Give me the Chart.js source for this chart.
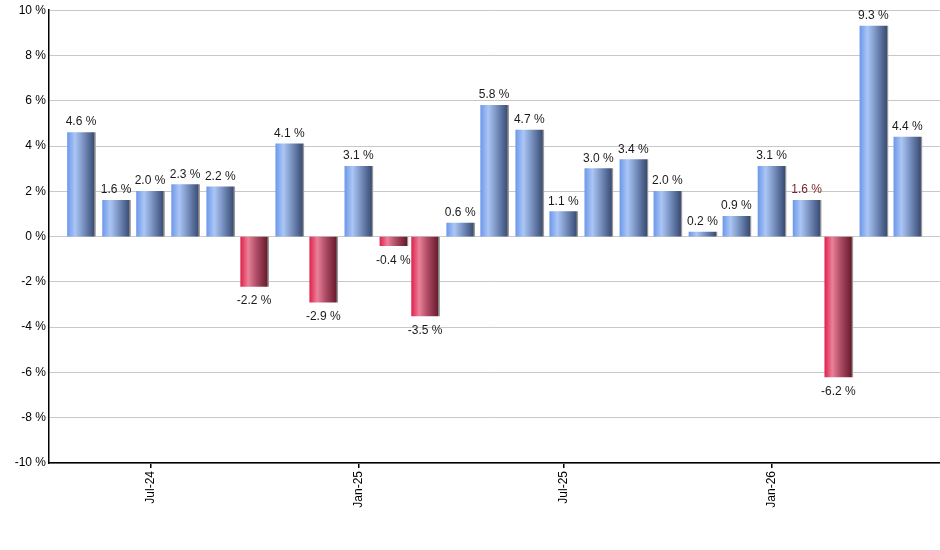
<!DOCTYPE html>
<html>
<head>
<meta charset="utf-8">
<script src="https://cdn.jsdelivr.net/npm/chart.js@4/dist/chart.umd.min.js"></script>
<style>
  html, body { margin: 0; padding: 0; background: #fff; }
  canvas { display: block; }
</style>
</head>
<body>
<canvas id="chart" width="940" height="550"></canvas>
<script>
// monthly returns, May-24 .. May-26
const months = [
    "May-24", "Jun-24", "Jul-24", "Aug-24", "Sep-24", "Oct-24", "Nov-24", "Dec-24",
    "Jan-25", "Feb-25", "Mar-25", "Apr-25", "May-25", "Jun-25", "Jul-25", "Aug-25",
    "Sep-25", "Oct-25", "Nov-25", "Dec-25", "Jan-26", "Feb-26", "Mar-26", "Apr-26", "May-26"
];
const returns = [
    4.6, 1.6, 2.0, 2.3, 2.2, -2.2, 4.1, -2.9,
    3.1, -0.4, -3.5, 0.6, 5.8, 4.7, 1.1, 3.0,
    3.4, 2.0, 0.2, 0.9, 3.1, 1.6, -6.2, 9.3, 4.4
];
const tickMonths = ["Jul-24", "Jan-25", "Jul-25", "Jan-26"];
const yTicks = [-10, -8, -6, -4, -2, 0, 2, 4, 6, 8, 10];

const DAY = 86400000;
const monNames = ["Jan","Feb","Mar","Apr","May","Jun","Jul","Aug","Sep","Oct","Nov","Dec"];

// turn "Jul-24" into a day count from the first month
const day0 = Date.UTC(2024, 4, 1) / DAY;
function monthDay(label) {
    const [m, y] = label.split("-");
    return Date.UTC(2000 + Number(y), monNames.indexOf(m), 1) / DAY - day0;
}

const points = months.map((m, i) => ({ x: monthDay(m), y: returns[i] }));
const xMin = monthDay(months[0]) - 28.7;
const xMax = monthDay(months[months.length - 1]) + 28.4;

const BAR_W = 28;

function barFill(ctx) {
    const chart = ctx.chart;
    const xs = chart.scales && chart.scales.x;
    const pos = !ctx.raw || ctx.raw.y >= 0;
    if (!xs || !ctx.raw) return pos ? "#7e9ee0" : "#c03050";
    const cx = xs.getPixelForValue(ctx.raw.x);
    if (!Number.isFinite(cx)) return pos ? "#7e9ee0" : "#c03050";
    const g = chart.ctx.createLinearGradient(cx - BAR_W / 2, 0, cx + BAR_W / 2, 0);
    if (pos) {
        g.addColorStop(0, "#6e99ea");
        g.addColorStop(0.27, "#abc6f5");
        g.addColorStop(0.55, "#7c95c4");
        g.addColorStop(0.95, "#3a4e77");
        g.addColorStop(0.96, "#808080");
        g.addColorStop(1, "#a0a0a0");
    } else {
        g.addColorStop(0, "#e0244e");
        g.addColorStop(0.27, "#ea8199");
        g.addColorStop(0.55, "#b14e68");
        g.addColorStop(0.95, "#6a1a2c");
        g.addColorStop(0.96, "#808080");
        g.addColorStop(1, "#a0a0a0");
    }
    return g;
}

// value labels above / below each bar
const valueLabels = {
    id: "valueLabels",
    afterDatasetsDraw(chart) {
        const c = chart.ctx;
        const meta = chart.getDatasetMeta(0);
        c.save();
        c.font = "12px 'Liberation Sans', Arial, sans-serif";
        c.textAlign = "center";
        c.textBaseline = "alphabetic";
        meta.data.forEach((bar, i) => {
            const v = returns[i];
            const txt = v.toFixed(1) + " %";
            c.fillStyle = i === 21 ? "#7a1f24" : "#1a1a1a";
            const x = bar.x - 0.5;
            if (v >= 0) {
                c.fillText(txt, x, bar.y - 7);
            } else {
                c.fillText(txt, x, bar.y + 18);
            }
        });
        c.restore();
    }
};

new Chart(document.getElementById("chart"), {
    type: "bar",
    data: {
        datasets: [{
            data: points,
            backgroundColor: barFill,
            borderWidth: 0,
            barThickness: BAR_W
        }]
    },
    options: {
        responsive: false,
        animation: false,
        devicePixelRatio: 1,
        layout: { padding: { top: 9, right: 0, left: 0, bottom: 0 }, autoPadding: false },
        plugins: {
            legend: { display: false },
            tooltip: { enabled: false }
        },
        scales: {
            x: {
                type: "linear",
                offset: false,
                bounds: "data",
                min: xMin,
                max: xMax,
                afterBuildTicks: (scale) => {
                    scale.ticks = tickMonths.map(m => ({ value: monthDay(m) }));
                },
                afterFit: (scale) => { scale.height = 87; },
                ticks: {
                    minRotation: 90,
                    maxRotation: 90,
                    padding: 3,
                    autoSkip: false,
                    color: "#000",
                    font: { family: "'Liberation Sans', Arial, sans-serif", size: 12 },
                    callback: (v) => {
                        const i = points.findIndex(p => p.x === v);
                        return i >= 0 ? months[i] : "";
                    }
                },
                grid: {
                    offset: false,
                    drawOnChartArea: false,
                    drawTicks: true,
                    tickLength: 5,
                    color: "#000",
                    lineWidth: 1.5
                },
                border: { display: true, color: "#000", width: 1.5 }
            },
            y: {
                min: -10,
                max: 10,
                afterBuildTicks: (scale) => {
                    scale.ticks = yTicks.map(v => ({ value: v }));
                },
                afterFit: (scale) => { scale.width = 49; },
                ticks: {
                    padding: 3,
                    color: "#000",
                    font: { family: "'Liberation Sans', Arial, sans-serif", size: 12 },
                    callback: (v) => v + " %"
                },
                grid: {
                    color: "#c8c8c8",
                    lineWidth: 1,
                    drawTicks: false
                },
                border: { display: true, color: "#000", width: 1.5 }
            }
        }
    },
    plugins: [valueLabels]
});
</script>
</body>
</html>
